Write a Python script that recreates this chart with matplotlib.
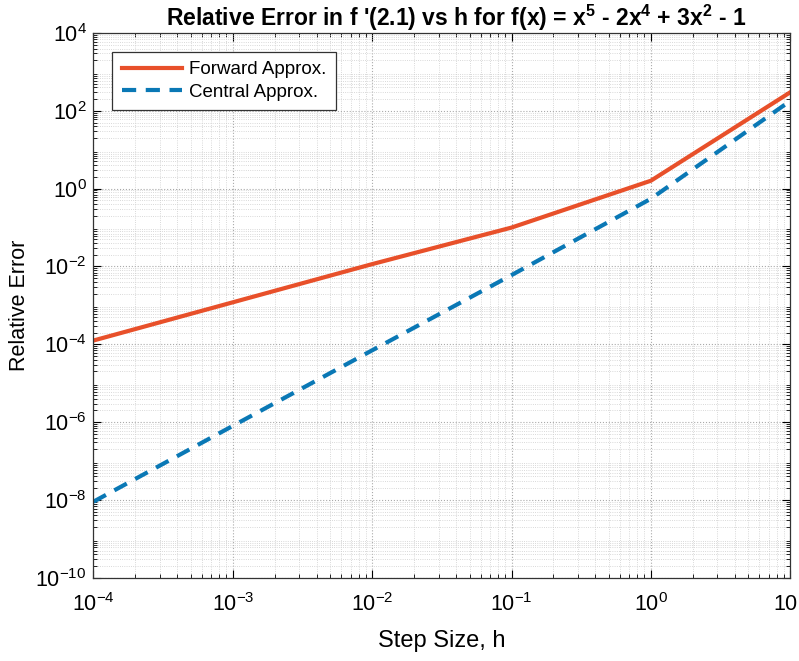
import matplotlib
matplotlib.use("Agg")
import matplotlib.pyplot as plt
from matplotlib.ticker import LogLocator, NullFormatter

plt.rcParams['font.family'] = ['Liberation Sans', 'DejaVu Sans']
plt.rcParams['mathtext.default'] = 'regular'

# step sizes and relative errors
h = [1e-4, 1e-3, 1e-2, 1e-1, 1, 10]
err_forward = [1.25e-4, 1.2e-3, 1.15e-2, 0.1, 1.6, 300]
err_central = [9e-9, 8e-7, 7e-5, 6e-3, 0.55, 180]

xticks = [1e-4, 1e-3, 1e-2, 1e-1, 1, 10]
yticks = [1e-10, 1e-8, 1e-6, 1e-4, 1e-2, 1, 1e2, 1e4]

fig = plt.figure(figsize=(7.99, 6.61), dpi=100)
ax = fig.add_axes([0.117, 0.126, 0.872, 0.824])

ax.loglog(h, err_forward, '-', color='#E8502A', lw=3, label='Forward Approx.')
ax.loglog(h, err_central, '--', color='#0A78B5', lw=3, dashes=(3.4, 2.3), label='Central Approx.')

ax.set_xlim(1e-4, 10)
ax.set_ylim(1e-10, 1e4)
ax.set_xticks(xticks)
ax.set_yticks(yticks)
ax.xaxis.set_minor_locator(LogLocator(base=10, subs=range(2, 10), numticks=50))
ax.yaxis.set_minor_locator(LogLocator(base=10, subs=range(2, 10), numticks=50))
ax.xaxis.set_minor_formatter(NullFormatter())
ax.yaxis.set_minor_formatter(NullFormatter())

ax.tick_params(which='both', direction='in', top=True, right=True, labelsize=15.5)
ax.tick_params(which='major', length=6, width=0.8)
ax.tick_params(which='minor', length=3, width=0.6)
ax.tick_params(axis='x', pad=11)
ax.tick_params(axis='y', pad=5)

ax.grid(True, which='major', ls=':', color='#aaaaaa', lw=0.8)
ax.grid(True, which='minor', ls=':', color='#cccccc', lw=0.6)

for s in ax.spines.values():
    s.set_linewidth(0.9)
    s.set_color('#333333')

t = ax.set_title("Relative Error in f '(2.1) vs h for f(x) = x$^5$ - 2x$^4$ + 3x$^2$ - 1",
                 fontsize=16.5, fontweight='bold', pad=4)
t.set_x(0.52)
ax.set_xlabel('Step Size, h', fontsize=17, labelpad=10)
ax.set_ylabel('Relative Error', fontsize=15.5, labelpad=4)

leg = ax.legend(loc='upper left', fontsize=13.5, handlelength=3.2, handletextpad=0.4,
                fancybox=False, framealpha=1, edgecolor='#333333',
                borderaxespad=0, bbox_to_anchor=(0.027, 0.966),
                borderpad=0.5, labelspacing=0.3)
leg.get_frame().set_linewidth(0.9)

fig.savefig('out.png', dpi=100)
